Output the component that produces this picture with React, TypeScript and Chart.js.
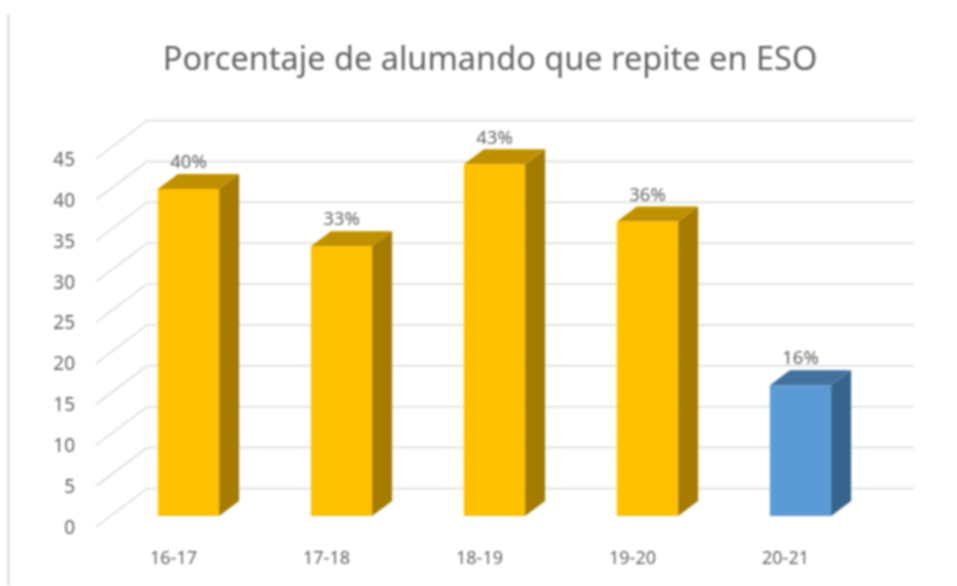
import React, { useEffect, useRef } from "react";
import { Chart, registerables } from "chart.js";

Chart.register(...registerables);

const categories = ["16-17", "17-18", "18-19", "19-20", "20-21"];
const values = [40, 33, 43, 36, 16];
const valueLabels = ["40%", "33%", "43%", "36%", "16%"];
const frontColors = ["#FFC000", "#FFC000", "#FFC000", "#FFC000", "#5B9BD5"];
const sideColors = ["#A67C00", "#A67C00", "#A67C00", "#A67C00", "#37648C"];
const topColors = ["#BF9000", "#BF9000", "#BF9000", "#BF9000", "#41719C"];
const titleText = "Porcentaje de alumando que repite en ESO";

const FONT = '"Noto Sans", sans-serif';
const TEXT = "#626262";
const GRID = "#e2e2e2";

const depthPlugin = {
  id: "depth",
  afterLayout(chart: any) {
    // the title is centred on a box that starts further right than the canvas edge
    chart.titleBlock.left += 103;
  },
  beforeDraw(chart: any) {
    const { ctx, height } = chart;
    ctx.save();
    ctx.fillStyle = "#e2e2e2";
    ctx.fillRect(7, 14, 3, height - 14);
    ctx.restore();
  },
  beforeDatasetsDraw(chart: any) {
    const { ctx, chartArea, scales } = chart;
    const yScale = scales.y;
    ctx.save();
    ctx.strokeStyle = GRID;
    ctx.lineWidth = 2;
    yScale.ticks.forEach((t: any) => {
      const y = yScale.getPixelForValue(t.value);
      ctx.beginPath();
      ctx.moveTo(chartArea.left - 16, y + 11);
      ctx.lineTo(chartArea.left + 35, y - 27.5);
      ctx.lineTo(chartArea.right + 37, y - 27.5);
      ctx.stroke();
    });
    const meta = chart.getDatasetMeta(0);
    const dx = 20;
    const dy = 15;
    meta.data.forEach((bar: any, i: number) => {
      const { x, y, base, width } = bar.getProps(["x", "y", "base", "width"], true);
      const l = x - width / 2;
      const r = x + width / 2;
      ctx.fillStyle = sideColors[i];
      ctx.beginPath();
      ctx.moveTo(r, y);
      ctx.lineTo(r + dx, y - dy);
      ctx.lineTo(r + dx, base - dy);
      ctx.lineTo(r, base);
      ctx.closePath();
      ctx.fill();
      ctx.fillStyle = topColors[i];
      ctx.beginPath();
      ctx.moveTo(l, y);
      ctx.lineTo(l + dx, y - dy);
      ctx.lineTo(r + dx, y - dy);
      ctx.lineTo(r, y);
      ctx.closePath();
      ctx.fill();
    });
    ctx.restore();
  },
  afterDatasetsDraw(chart: any) {
    const { ctx } = chart;
    const meta = chart.getDatasetMeta(0);
    ctx.save();
    ctx.fillStyle = TEXT;
    ctx.font = `18.5px ${FONT}`;
    ctx.textAlign = "center";
    ctx.textBaseline = "middle";
    meta.data.forEach((bar: any, i: number) => {
      const { x, y } = bar.getProps(["x", "y"], true);
      ctx.fillText(valueLabels[i], x, y - 26);
    });
    ctx.restore();
  },
};

export default function App() {
  const ref = useRef<HTMLCanvasElement>(null);
  useEffect(() => {
    if (!ref.current) return;
    const chart = new Chart(ref.current, {
      type: "bar",
      data: {
        labels: categories,
        datasets: [
          {
            data: values,
            backgroundColor: frontColors,
            barPercentage: 0.4,
            categoryPercentage: 1,
            borderWidth: 0,
          },
        ],
      },
      options: {
        responsive: false,
        animation: false,
        layout: { padding: { left: 0, right: 80, top: 0, bottom: 0 } },
        plugins: {
          legend: { display: false },
          tooltip: { enabled: false },
          title: {
            display: true,
            text: titleText,
            color: TEXT,
            font: { family: FONT, size: 32.5, weight: "normal" },
            padding: { top: 41.5, bottom: 67.5 },
          },
        },
        scales: {
          x: {
            grid: { display: false },
            border: { display: false },
            ticks: {
              color: TEXT,
              font: { family: FONT, size: 18 },
              padding: 24,
              labelOffset: -15,
              maxRotation: 0,
            },
            afterFit: (s: any) => {
              s.height = 70;
            },
          },
          y: {
            min: 0,
            max: 45,
            grid: { display: false, drawTicks: false },
            border: { display: false },
            ticks: {
              stepSize: 5,
              color: TEXT,
              font: { family: FONT, size: 19 },
              padding: 37,
              labelOffset: 12.5,
            },
            afterFit: (s: any) => {
              s.width = 112;
            },
          },
        },
      },
      plugins: [depthPlugin],
    } as any);
    return () => chart.destroy();
  }, []);
  return (
    <div style={{ position: "absolute", left: 0, top: 0, width: 957, height: 586, background: "#fff", overflow: "hidden" }}>
      <canvas ref={ref} width={957} height={586} style={{ display: "block", filter: "blur(0.9px)" }} />
    </div>
  );
}
